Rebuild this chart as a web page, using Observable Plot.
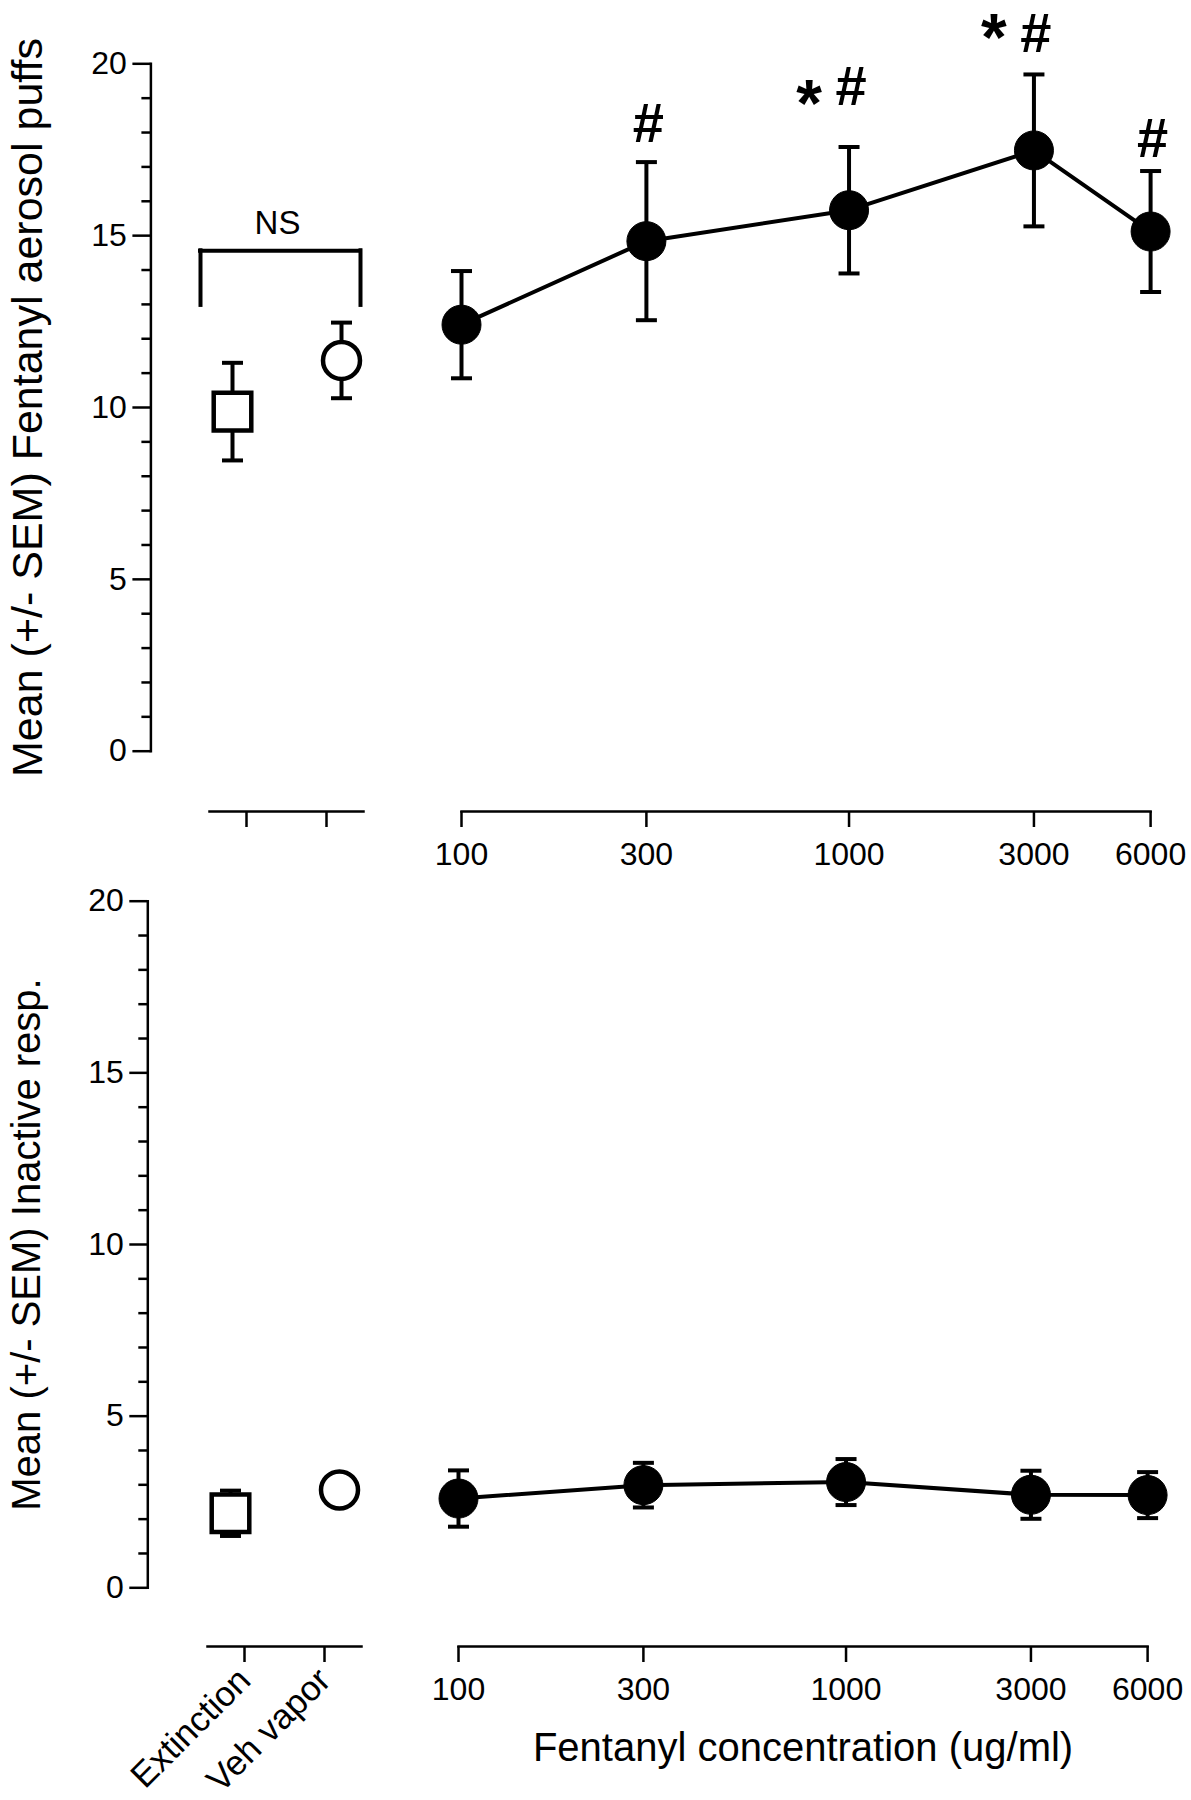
<!DOCTYPE html>
<html><head><meta charset="utf-8">
<script src="https://cdn.jsdelivr.net/npm/d3@7"></script>
<script src="https://cdn.jsdelivr.net/npm/@observablehq/plot@0.6"></script>
<style>
html,body{margin:0;padding:0;background:#fff;}
#fig{position:relative;width:1191px;height:1800px;overflow:hidden;font-family:"Liberation Sans",Arial,sans-serif;}
#fig svg{position:absolute;}
</style></head><body><div id="fig"></div>
<script>
// ---- data ----
const categories = ["Extinction", "Veh vapor"];
const concentrations = [100, 300, 1000, 3000, 6000];
const concTicks = [100, 300, 1000, 3000, 6000];
const yTicks = [0, 5, 10, 15, 20];
const yMinorTicks = [1, 2, 3, 4, 6, 7, 8, 9, 11, 12, 13, 14, 16, 17, 18, 19];

const activeCtrlMean = [9.88, 11.37];
const activeCtrlSem = [1.42, 1.10];
const activeMean = [12.41, 14.84, 15.74, 17.48, 15.12];
const activeSem = [1.56, 2.30, 1.84, 2.21, 1.76];

const inactiveCtrlMean = [2.17, 2.85];
const inactiveCtrlSem = [0.66, 0.40];
const inactiveMean = [2.60, 2.99, 3.08, 2.71, 2.70];
const inactiveSem = [0.82, 0.65, 0.67, 0.70, 0.67];

const hashConc = [300, 1000, 3000, 6000];
const hashLevel = [17.72, 18.79, 20.33, 17.28];
const starConc = [1000, 3000];
const starLevel = [18.20, 20.10];
const nsLabel = "NS";
const nsLevel = 15.06;
const bracketTop = 14.56;
const bracketBottom = 12.97;

const yTitles = ["Mean (+/- SEM) Fentanyl aerosol puffs", "Mean (+/- SEM) Inactive resp."];
const xTitle = "Fentanyl concentration (ug/ml)";

// ---- styles ----
const AX = 2.5, EB = 4;
const FONT = "'Liberation Sans', Arial, sans-serif";
const capSymbol = {draw(ctx, size) { const w = Math.sqrt(size / Math.PI); ctx.moveTo(-w, 0); ctx.lineTo(w, 0); }};

function place(svg, left, top) {
  svg.style.position = "absolute";
  svg.style.left = left + "px";
  svg.style.top = top + "px";
  svg.style.overflow = "visible";
  document.getElementById("fig").appendChild(svg);
}

function errorMarks(data, x, dx) {
  return [
    Plot.ruleX(data, {x, y1: d => d.mean - d.sem, y2: d => d.mean + d.sem, dx, stroke: "black", strokeWidth: EB}),
    Plot.dot(data, {x, y: d => d.mean + d.sem, dx, symbol: capSymbol, r: 10.5, stroke: "black", fill: "none", strokeWidth: EB}),
    Plot.dot(data, {x, y: d => d.mean - d.sem, dx, symbol: capSymbol, r: 10.5, stroke: "black", fill: "none", strokeWidth: EB})
  ];
}

function leftPlot(p) {
  const ext = [{cat: categories[0], mean: p.ctrlMean[0], sem: p.ctrlSem[0]}];
  const veh = [{cat: categories[1], mean: p.ctrlMean[1], sem: p.ctrlSem[1]}];
  const marks = [
    Plot.frame({anchor: "left", insetBottom: p.insetBottom, dx: p.yAxisDx, stroke: "black", strokeWidth: AX}),
    Plot.frame({anchor: "bottom", stroke: "black", strokeWidth: AX}),
    Plot.axisY({ticks: yTicks, tickSize: 18, tickPadding: 6, dx: p.yAxisDx, fontSize: 32, strokeWidth: AX, label: null}),
    Plot.axisY({ticks: yMinorTicks, tickSize: 9, tickFormat: () => "", dx: p.yAxisDx, strokeWidth: AX, label: null}),
    p.catLabels
      ? Plot.axisX({tickSize: 16, tickPadding: 12, tickRotate: -45, fontSize: 35, strokeWidth: AX, label: null})
      : Plot.axisX({tickSize: 16, tickFormat: () => "", strokeWidth: AX, label: null}),
    Plot.text([p.yTitle], {frameAnchor: "left", textAnchor: "middle", rotate: -90, dx: p.titleDx, dy: -p.insetBottom / 2, lineAnchor: "bottom", fontSize: p.titleSize, text: d => d}),
    ...errorMarks(ext, "cat", -14),
    ...errorMarks(veh, "cat", 15),
    Plot.dot(ext, {x: "cat", y: "mean", dx: -14, symbol: "square", r: 21.2, fill: "white", stroke: "black", strokeWidth: 4.5}),
    Plot.dot(veh, {x: "cat", y: "mean", dx: 15, symbol: "circle", r: 18.5, fill: "white", stroke: "black", strokeWidth: 4.5})
  ];
  if (p.bracket) {
    marks.push(
      Plot.ruleX([categories[0]], {x: d => d, y1: bracketBottom, y2: bracketTop, dx: -46, strokeWidth: 4, strokeLinecap: "square"}),
      Plot.ruleX([categories[1]], {x: d => d, y1: bracketBottom, y2: bracketTop, dx: 34, strokeWidth: 4, strokeLinecap: "square"}),
      Plot.ruleY([bracketTop], {y: d => d, x1: () => categories[0], x2: () => categories[1], insetLeft: -46, insetRight: -34, strokeWidth: 4, strokeLinecap: "square"}),
      Plot.text([nsLabel], {y: nsLevel, text: d => d, dx: -9, fontSize: 33, lineAnchor: "bottom"})
    );
  }
  return Plot.plot({
    width: 400, height: p.height,
    marginLeft: 209, marginRight: 37, marginTop: p.marginTop, marginBottom: p.marginBottom,
    x: {type: "point", domain: categories, padding: 0.46},
    y: {domain: [0, 20], insetBottom: p.insetBottom},
    style: {fontFamily: FONT, color: "black", background: "transparent", overflow: "visible"},
    marks
  });
}

function rightPlot(p) {
  const rows = concentrations.map((c, i) => ({conc: c, mean: p.mean[i], sem: p.sem[i]}));
  const marks = [
    Plot.frame({anchor: "bottom", stroke: "black", strokeWidth: AX}),
    Plot.axisX({ticks: concTicks, tickFormat: d => String(d), tickSize: 16, tickPadding: 15, fontSize: 32, strokeWidth: AX, label: null}),
    ...errorMarks(rows, "conc", 0),
    Plot.line(rows, {x: "conc", y: "mean", stroke: "black", strokeWidth: 4}),
    Plot.dot(rows, {x: "conc", y: "mean", r: 19.5, fill: "black", stroke: "black", strokeWidth: 1})
  ];
  if (p.annotate) {
    marks.push(
      Plot.text(hashConc.map((c, i) => ({conc: c, level: hashLevel[i]})), {x: "conc", y: "level", text: () => "#", fontSize: 56, fontWeight: "bold", lineAnchor: "bottom", dx: 2}),
      Plot.text(starConc.map((c, i) => ({conc: c, level: starLevel[i]})), {x: "conc", y: "level", text: () => "*", fontSize: 66, fontWeight: "bold", lineAnchor: "bottom", dx: -40})
    );
  }
  if (p.xTitle) {
    marks.push(Plot.text([p.xTitle], {frameAnchor: "bottom", dy: 114, lineAnchor: "bottom", fontSize: 40, text: d => d}));
  }
  return Plot.plot({
    width: 791, height: p.height,
    marginLeft: 61, marginRight: 40.9, marginTop: p.marginTop, marginBottom: p.marginBottom,
    x: {type: "log", domain: [100, 6000]},
    y: {domain: [0, 20], insetBottom: p.insetBottom, axis: null},
    style: {fontFamily: FONT, color: "black", background: "transparent", overflow: "visible"},
    marks
  });
}

// top panel
const topCfg = {height: 880, marginTop: 63.3, marginBottom: 69, insetBottom: 60.3};
place(leftPlot({...topCfg, ctrlMean: activeCtrlMean, ctrlSem: activeCtrlSem, yAxisDx: -58.6, titleDx: -168, titleSize: 43, yTitle: yTitles[0], catLabels: false, bracket: true}), 0, 0);
place(rightPlot({...topCfg, mean: activeMean, sem: activeSem, annotate: true}), 400, 0);

// bottom panel
const botCfg = {height: 920, marginTop: 20.7, marginBottom: 154, insetBottom: 58.7};
place(leftPlot({...botCfg, ctrlMean: inactiveCtrlMean, ctrlSem: inactiveCtrlSem, yAxisDx: -59.7, titleDx: -168, titleSize: 40, yTitle: yTitles[1], catLabels: true, bracket: false}), -2, 880);
place(rightPlot({...botCfg, mean: inactiveMean, sem: inactiveSem, xTitle}), 397, 880);
</script></body></html>
